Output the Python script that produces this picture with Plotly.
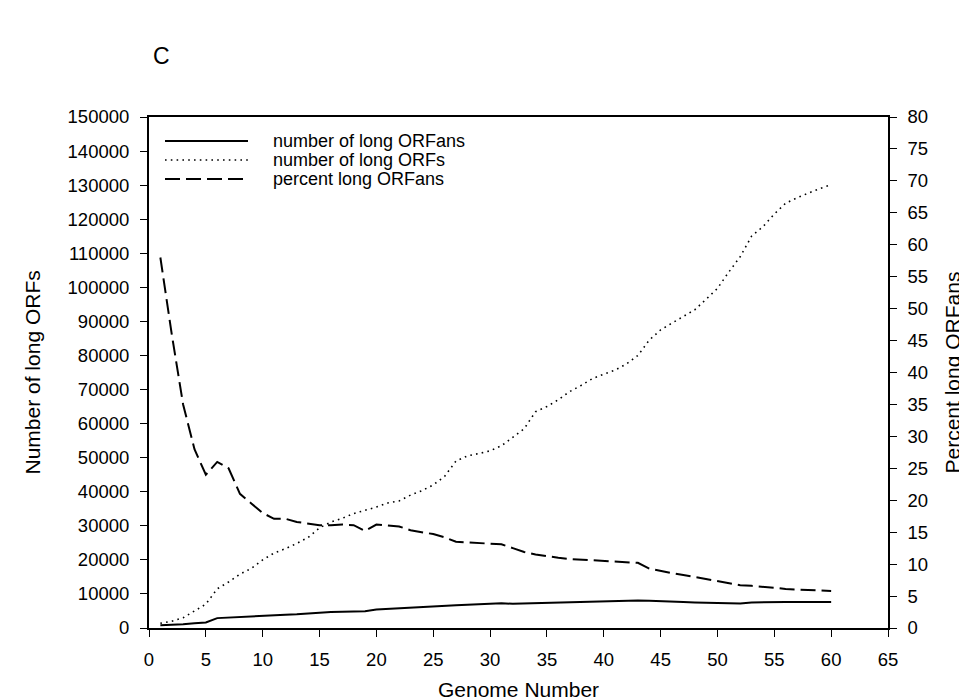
import plotly.graph_objects as go

genome = list(range(1, 61))

long_orfans = [800, 900, 1100, 1400, 1600, 2900, 3100, 3200, 3400, 3600,
               3800, 3900, 4000, 4300, 4600, 4700, 4800, 4850, 4900, 5400,
               5600, 5900, 6000, 6100, 6300, 6500, 6700, 6800, 6900, 7000,
               7300, 7100, 7200, 7400, 7400, 7500, 7600, 7700, 7800, 7900,
               8000, 8100, 8100, 8000, 7800, 7700, 7600, 7500, 7400, 7300,
               7100, 7200, 7500, 7600, 7600, 7600, 7600, 7600, 7600, 7600]

long_orfs = [1400, 2000, 3000, 5000, 7000, 11500, 13500, 15800, 17500, 20000,
             22000, 23300, 24800, 26600, 29400, 31100, 32200, 33600, 34500, 35500,
             36700, 37300, 39000, 40300, 42000, 44500, 49000, 50500, 51200, 52000,
             53500, 56000, 58500, 63500, 65000, 67000, 69400, 71200, 73200, 74500,
             75700, 77500, 80000, 84500, 87500, 89500, 91500, 93400, 96500, 99700,
             104500, 109000, 115000, 117800, 121500, 124700, 126300, 127700, 129000, 130100]

pct_orfans = [58, 46, 35, 28, 24, 26, 25, 21, 19.5, 18,
              17.1, 17.1, 16.6, 16.3, 16.1, 16.1, 16.2, 16.1, 15.2, 16.2,
              16.0, 15.9, 15.3, 15.0, 14.7, 14.2, 13.5, 13.4, 13.3, 13.3,
              13.1, 12.5, 11.9, 11.5, 11.2, 11.0, 10.8, 10.7, 10.5, 10.4,
              10.3, 10.3, 10.2, 9.3, 8.9, 8.6, 8.3, 8.0, 7.7, 7.4,
              7.0, 6.7, 6.6, 6.5, 6.3, 6.1, 6.0, 5.9, 5.9, 5.8]

legend_labels = ["number of long ORFans", "number of long ORFs", "percent long ORFans"]
x_title = "Genome Number"
y_title = "Number of long ORFs"
y2_title = "Percent long ORFans"
panel_label = "C"

FONT = "Liberation Sans, Arial, sans-serif"
DOT = "1.6px,4.2px"
DASH = "15px,6px"

# plot-area geometry in pixels
L, R, T, B = 141, 87, 109, 80
W, H = 967, 700
PW, PH = W - L - R, H - T - B

fig = go.Figure()
fig.add_trace(go.Scatter(x=genome, y=long_orfans, mode="lines",
                         line=dict(color="black", width=2), name=legend_labels[0]))
fig.add_trace(go.Scatter(x=genome, y=long_orfs, mode="lines",
                         line=dict(color="black", width=1.6, dash=DOT), name=legend_labels[1]))
fig.add_trace(go.Scatter(x=genome, y=pct_orfans, mode="lines", yaxis="y2",
                         line=dict(color="black", width=2, dash=DASH), name=legend_labels[2]))

# custom legend with long line samples, as in the original
rows_px = [133, 152, 171]
styles = [dict(width=2), dict(width=1.6, dash=DOT), dict(width=2, dash=DASH)]
for rp, lab, st in zip(rows_px, legend_labels, styles):
    ry = (H - B - rp) / PH
    fig.add_shape(type="line", xref="paper", yref="paper",
                  x0=(157 - L) / PW, x1=(240 - L) / PW, y0=ry, y1=ry,
                  line=dict(color="black", **st))
    fig.add_annotation(xref="paper", yref="paper", x=(263 - L) / PW, y=ry, text=lab,
                       showarrow=False, xanchor="left", yanchor="middle",
                       font=dict(size=18, color="black", family=FONT))

# panel letter
fig.add_annotation(xref="paper", yref="paper", x=(143 - L) / PW, y=(H - B - 48) / PH, text=panel_label,
                   showarrow=False, xanchor="left", yanchor="middle",
                   font=dict(size=23, color="black", family=FONT))

# axis titles
fig.add_annotation(xref="paper", yref="paper", x=0.5, y=(H - B - 681) / PH, text=x_title,
                   showarrow=False, xanchor="center", yanchor="middle",
                   font=dict(size=21, color="black", family=FONT))
fig.add_annotation(xref="paper", yref="paper", x=(24 - L) / PW, y=0.5, text=y_title, textangle=-90,
                   showarrow=False, xanchor="center", yanchor="middle",
                   font=dict(size=21, color="black", family=FONT))
fig.add_annotation(xref="paper", yref="paper", x=(944 - L) / PW, y=0.5, text=y2_title, textangle=-90,
                   showarrow=False, xanchor="center", yanchor="middle",
                   font=dict(size=21, color="black", family=FONT))

axis_common = dict(showgrid=False, zeroline=False, showline=True, linecolor="black",
                   ticks="outside", ticklen=7, tickcolor="black", tickwidth=1.3,
                   ticklabelstandoff=7,
                   tickfont=dict(size=18.5, color="black", family=FONT))

fig.update_layout(
    width=W, height=H,
    margin=dict(l=L, r=R, t=T, b=B),
    paper_bgcolor="white", plot_bgcolor="white",
    showlegend=False,
    font=dict(family=FONT, color="black"),
    xaxis=dict(range=[0, 65], dtick=5, tick0=0, mirror=True, linewidth=2, **axis_common),
    yaxis=dict(range=[0, 150000], dtick=10000, tick0=0, linewidth=2, tickformat="d", **axis_common),
    yaxis2=dict(range=[0, 80], dtick=5, tick0=0, overlaying="y", side="right", linewidth=1.5,
                **axis_common),
)

fig.write_html("out.html")
